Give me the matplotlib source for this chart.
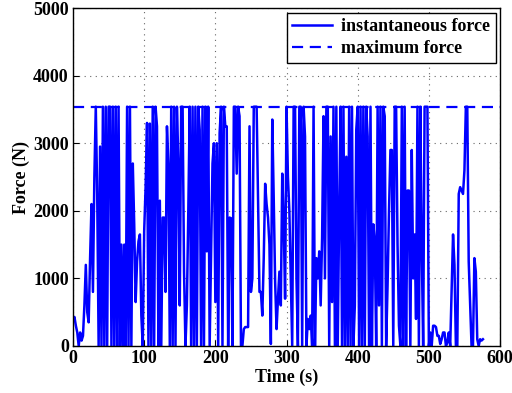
import matplotlib

matplotlib.use("Agg")
import matplotlib.pyplot as plt
import numpy as np

time_s = np.arange(0, 578, 2)
max_force = 3540
M = max_force
force_n = [
    400, 430, 300, 200, 0, 200, 80, 150, 600, 1200,
    500, 350, 1300, 2100, 800, 2500, M, 2250, 0, 2950,
    0, M, 0, M, 0, M, M, 0, M, 0,
    M, 0, M, 0, 1500, 0, 1500, 0, M, 0,
    M, 0, 2700, 1800, 650, 1250, 1550, 1650, 450, 0,
    1700, 2350, 3300, 0, 3290, 0, M, 0, M, 3250,
    0, 2150, 0, 1900, 1900, 800, 3250, 2700, 0, M,
    0, M, 0, M, 2750, 600, M, M, 1100, 0,
    600, 2000, M, 0, M, 0, M, 0, M, 3200,
    0, M, 0, M, 1400, M, 0, 1350, 2700, 3000,
    650, 3000, 0, 3150, M, 0, M, 3250, 3250, 0,
    1900, 1890, 0, M, M, 2550, M, 3400, 0, 0,
    250, 280, 280, 280, 3250, 800, 1000, M, M, M,
    2200, 800, 800, 450, 1300, 2400, 2100, 1900, 1500, 30,
    3350, 2200, 950, 250, 700, 1100, 600, 2550, 1850, 700,
    M, 2500, 2000, 1000, 0, M, M, 1000, 0, M,
    M, 0, M, 3100, 0, 400, 250, 450, 0, M,
    0, 1300, 1000, 1400, 600, 1600, 3400, 1000, M, M,
    0, 3100, 650, M, 0, M, 0, 2000, M, 0,
    M, 0, 2800, 0, M, 0, M, 0, 600, 3200,
    M, 0, M, 0, M, 0, M, 3100, 0, M,
    0, 1800, 1550, 0, M, 600, M, 0, M, 3400,
    0, 900, 2000, 2900, 2900, 0, M, M, 1500, 300,
    0, M, 0, M, 0, 2300, 2300, 0, 2900, 1000,
    1650, 400, M, 0, M, 1450, 0, M, M, M,
    0, 200, 0, 300, 300, 280, 150, 150, 30, 100,
    200, 200, 0, 50, 200, 0, 800, 1650, 1200, 0,
    0, 2250, 2350, 2300, 2250, 2600, M, M, 1250, 640,
    0, 0, 1300, 1100, 100, 0, 100, 80, 100,
]

plt.rcParams["font.family"] = ["Liberation Serif", "DejaVu Serif"]
plt.rcParams["font.weight"] = "bold"
plt.rcParams["font.size"] = 13

fig = plt.figure(figsize=(5.12, 3.93), dpi=100)
ax = fig.add_axes([0.1426, 0.1196, 0.834, 0.86])

ax.plot(time_s, force_n, "-", color="#0000ff", linewidth=1.8, label="instantaneous force")
ax.plot([0, 600], [max_force, max_force], "--", color="#0000ff", linewidth=1.6,
        dashes=(5, 3), label="maximum force")

ax.set_xlim(0, 600)
ax.set_ylim(0, 5000)
ax.set_xticks(np.arange(0, 601, 100))
ax.set_yticks(np.arange(0, 5001, 1000))
ax.tick_params(direction="in", length=4, width=0.8, pad=3)
for label in ax.get_xticklabels() + ax.get_yticklabels():
    label.set_fontweight("bold")
ax.grid(True, linestyle=(0, (1, 4)), color="#666666", linewidth=0.8)
for spine in ax.spines.values():
    spine.set_linewidth(1.0)

ax.set_xlabel("Time (s)", fontweight="bold", labelpad=1)
ax.set_ylabel("Force (N)", fontweight="bold", labelpad=2)

legend = ax.legend(loc="upper right", fancybox=False, framealpha=1, edgecolor="black",
                   borderaxespad=0.25, handlelength=2.2, handletextpad=0.5,
                   borderpad=0.3, labelspacing=0.3,
                   prop={"weight": "bold", "size": 13})
legend.get_frame().set_linewidth(1.0)

fig.savefig("out.png", dpi=100)
